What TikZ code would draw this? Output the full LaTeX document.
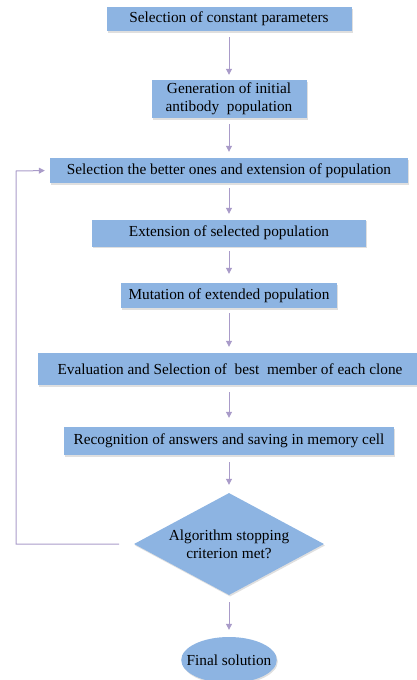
\documentclass[tikz,border=0pt]{standalone}
\usepackage{fontspec}
\setmainfont{Liberation Serif}
\usetikzlibrary{shapes.geometric,arrows.meta,shadows}
\definecolor{boxblue}{HTML}{8DB4E2}
\definecolor{arrowpurple}{HTML}{A99BC9}
\tikzset{
  box/.style={fill=boxblue, draw=none, inner sep=0pt, align=center, font=\fontsize{15.3}{18}\selectfont,
    drop shadow={opacity=0.25, shadow xshift=1pt, shadow yshift=-1.5pt}},
  conn/.style={draw=arrowpurple, line width=1pt, -{Triangle[width=6pt,length=6pt]}},
}
\begin{document}
\begin{tikzpicture}[x=1pt,y=1pt]
\useasboundingbox (0,0) rectangle (417,-680);
\node[box, minimum width=245, minimum height=24] (b1) at (229,-19) {Selection of constant parameters};
\node[box, minimum width=155, minimum height=38] (b2) at (229,-99) {Generation of initial\\antibody\ \ population};
\node[box, minimum width=358, minimum height=25] (b3) at (229,-170.5) {Selection the better ones and extension of population};
\node[box, minimum width=274, minimum height=27] (b4) at (229,-233) {Extension of selected population};
\node[box, minimum width=216, minimum height=25] (b5) at (229,-295.5) {Mutation of extended population};
\node[box, minimum width=384, minimum height=32] (b6) at (230,-369) {Evaluation and Selection of\ \ best\ \ member of each clone};
\node[box, minimum width=330, minimum height=28] (b7) at (229,-441) {Recognition of answers and saving in memory cell};
\node[box, diamond, aspect=1.86, minimum width=190, minimum height=102] (d) at (229,-544) {Algorithm stopping\\criterion met?};
\node[box, ellipse, inner sep=-8.5pt, minimum width=95, minimum height=46] (e) at (229,-660) {Final solution};
\draw[conn, shorten <=6pt, shorten >=5pt] (b1.south) -- (b2.north);
\draw[conn, shorten <=6pt, shorten >=6pt] (b2.south) -- (b3.north);
\draw[conn, shorten <=5pt, shorten >=5.5pt] (b3.south) -- (b4.north);
\draw[conn, shorten <=4.5pt, shorten >=9pt] (b4.south) -- (b5.north);
\draw[conn, shorten <=5pt, shorten >=6pt] (b5.south) -- (b5.south |- b6.north);
\draw[conn, shorten <=7pt, shorten >=9pt] (b5.south |- b6.south) -- (b7.north);
\draw[conn, shorten <=7pt, shorten >=8pt] (b7.south) -- (d.north);
\draw[conn, shorten <=7pt, shorten >=7pt] (d.south) -- (e.north);
\coordinate (dl) at (119,-544);
\coordinate (lb) at (16,-544);
\coordinate (lt) at (16,-171);
\draw[conn, shorten >=5pt] (dl) -- (lb) -- (lt) -- (b3.west);
\end{tikzpicture}
\end{document}
